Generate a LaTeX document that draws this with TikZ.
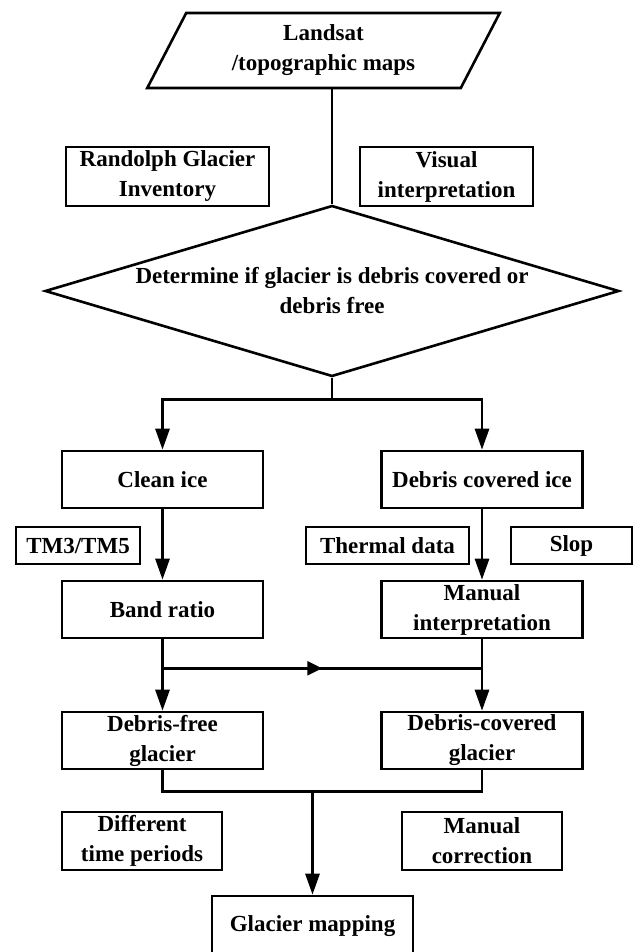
\documentclass[tikz,border=0pt]{standalone}
\usepackage{fontspec}
\setmainfont{Liberation Serif}
\usetikzlibrary{shapes.geometric}
\usetikzlibrary{arrows.meta}
\usetikzlibrary{decorations.markings}

\tikzset{
	procbox/.style={draw,line width=2.6pt,align=center,inner sep=0pt,minimum width=201pt,minimum height=57pt},
	sidebox/.style={draw,line width=2.6pt,align=center,inner sep=0pt},
	plain/.style={line width=2.8pt},
	flow/.style={line width=2.8pt,-{Triangle[length=21pt,width=14pt]}},
	midarrow/.style={postaction={decorate},decoration={markings,mark=at position 0.5 with {\arrow{Triangle[length=15pt,width=14pt]}}}}
}

\begin{document}
\begin{tikzpicture}[x=1pt,y=-1pt,font=\fontsize{23}{30}\selectfont\bfseries]
	\useasboundingbox (0,0) rectangle (633,952);
	\node[draw,line width=2.6pt,trapezium,trapezium left angle=63,trapezium right angle=117,trapezium stretches=true,minimum width=353pt,minimum height=75pt,align=center,inner sep=0pt] (src) at (323.5,50.5) {Landsat\\/topographic maps};
	\node[sidebox,minimum width=203pt,minimum height=59pt] (rgi) at (167.5,176.5) {Randolph Glacier\\Inventory};
	\node[sidebox,minimum width=173pt,minimum height=59pt] (visual) at (446.5,176.5) {Visual\\interpretation};
	\node[draw,diamond,line width=2.6pt,minimum width=574pt,minimum height=171pt,inner sep=0pt] (dec) at (332,291) {};
	\node[align=center] (dectext) at (dec.center) {Determine if glacier is debris covered or\\debris free};
	\node[procbox] (clean) at (162.5,479.5) {Clean ice};
	\node[procbox] (debris) at (482,479.5) {Debris covered ice};
	\node[sidebox,minimum width=124pt,minimum height=37pt] (tm) at (78,545.5) {TM3/TM5};
	\node[sidebox,minimum width=163pt,minimum height=37pt] (thermal) at (387.5,545.5) {Thermal data};
	\node[sidebox,minimum width=121pt,minimum height=37pt] (slop) at (571.5,545.5) {Slop};
	\node[procbox] (band) at (162.5,609.5) {Band ratio};
	\node[procbox] (manual) at (482,609.5) {Manual\\interpretation};
	\node[procbox] (free) at (162.5,740.5) {Debris-free\\glacier};
	\node[procbox] (covered) at (482,740.5) {Debris-covered\\glacier};
	\node[sidebox,minimum width=160pt,minimum height=58pt] (periods) at (142,841) {Different\\time periods};
	\node[sidebox,minimum width=160pt,minimum height=58pt] (correct) at (482,841) {Manual\\correction};
	\node[procbox,minimum height=60pt] (map) at (312.5,926) {Glacier mapping};
	% connectors
	\draw[plain] (dec.north |- src.south) -- (dec.north);
	\draw[plain] (dec.south) -- ++(0,22) coordinate (split);
	\draw[flow] (split) -| (clean.north);
	\draw[flow] (split) -| (debris.north);
	\draw[flow] (clean) -- (band);
	\draw[flow] (debris) -- (manual);
	\draw[flow] (band) -- (free);
	\draw[flow] (manual) -- (covered);
	\path (band.south) ++(0,29) coordinate (lj);
	\path (manual.south) ++(0,29) coordinate (rj);
	\draw[plain,midarrow] (lj) -- (rj);
	\draw[plain] (free.south) -- ++(0,21) coordinate (mrow) -| (covered.south);
	\draw[flow] (mrow -| map.north) -- (map.north);
\end{tikzpicture}
\end{document}
